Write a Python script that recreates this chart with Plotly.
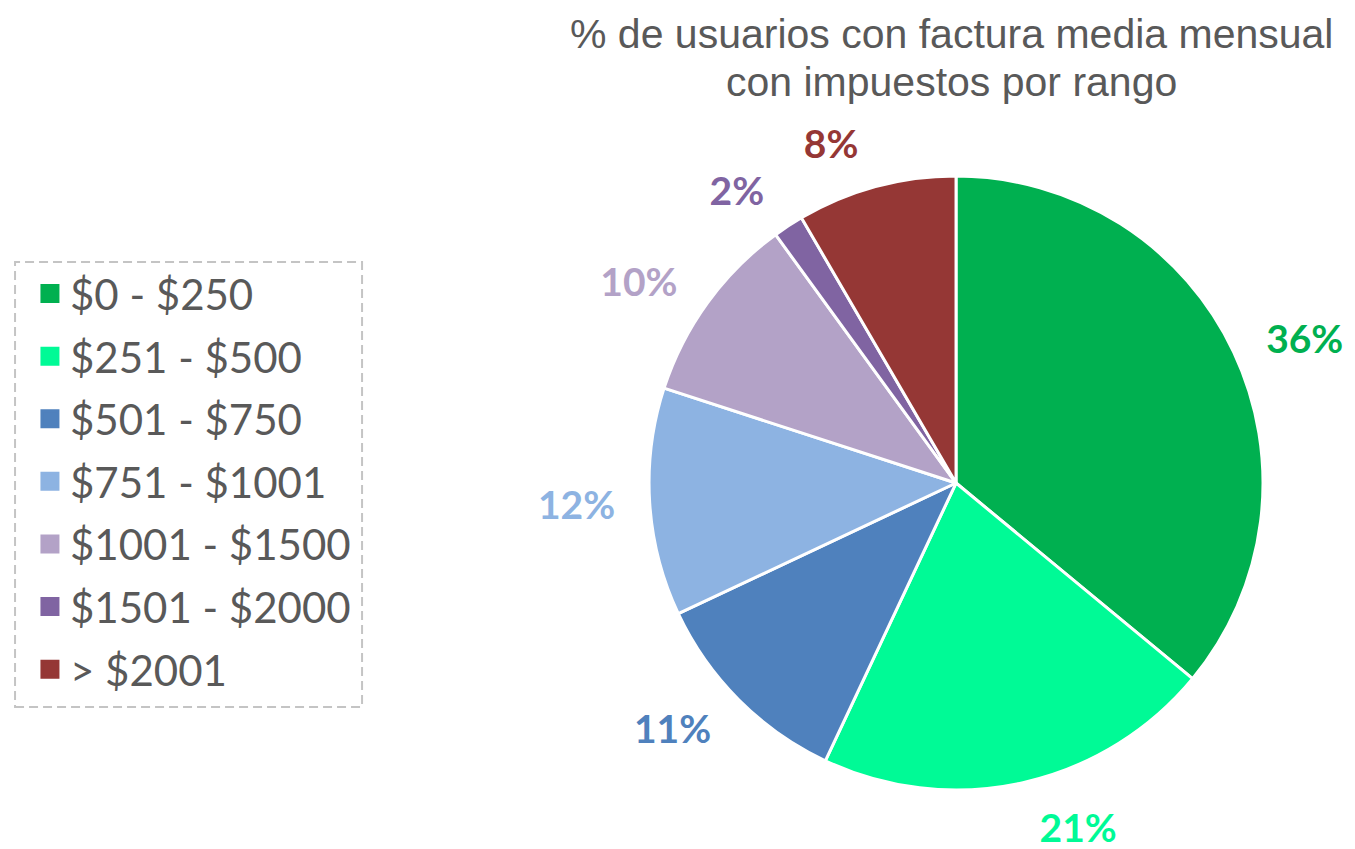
import plotly.graph_objects as go

rangos = ["$0 - $250", "$251 - $500", "$501 - $750", "$751 - $1001",
          "$1001 - $1500", "$1501 - $2000", "> $2001"]
porcentajes = [36, 21, 11, 12, 10, 1.6, 8.4]
colores = ["#00B050", "#00FA96", "#4F81BD", "#8DB3E2", "#B3A2C7", "#8064A2", "#953735"]

titulo = ["% de usuarios con factura media mensual", "con impuestos por rango"]

fig = go.Figure()

# the pie itself, no text
fig.add_trace(go.Pie(
    labels=rangos, values=porcentajes, sort=False, direction="clockwise", rotation=0,
    marker=dict(colors=colores, line=dict(color="white", width=3)),
    textinfo="none", hoverinfo="label+percent",
    domain=dict(x=[0.4731, 0.9262], y=[0.0789, 0.8021]),
    showlegend=False,
))

# transparent, slightly larger copy that only carries the outside labels
fig.add_trace(go.Pie(
    labels=rangos, values=porcentajes, sort=False, direction="clockwise", rotation=0,
    marker=dict(colors=["rgba(0,0,0,0)"] * len(rangos), line=dict(width=0)),
    textposition="outside", texttemplate="%{percent:.0%}",
    outsidetextfont=dict(family="Lato, Open Sans", size=39, color=colores, weight="bold"),
    hoverinfo="skip",
    domain=dict(x=[0.4561, 0.9432], y=[0.0518, 0.8292]),
    showlegend=False,
))

# legend entries with bigger square symbols
for i, (nombre, color) in enumerate(zip(rangos, colores)):
    fig.add_trace(go.Scatter(
        x=[None], y=[None], mode="markers", name=nombre, legendgroup=str(i),
        marker=dict(symbol="square", size=16, color=color, line=dict(color=color, width=3)),
    ))

# title as two lines so the line spacing can match
title_font = dict(family="Liberation Sans Narrow, Liberation Sans", size=41, color="#595959")
annots = [
    dict(text=titulo[0], x=0.6966, y=0.9688, xref="paper", yref="paper", borderpad=0,
         xanchor="center", yanchor="middle", showarrow=False, font=title_font),
    dict(text=titulo[1], x=0.6966, y=0.9128, xref="paper", yref="paper", borderpad=0,
         xanchor="center", yanchor="middle", showarrow=False, font=title_font),
]

fig.update_layout(
    width=1355,
    height=849,
    margin=dict(l=0, r=0, t=0, b=0),
    paper_bgcolor="white",
    plot_bgcolor="white",
    xaxis=dict(visible=False),
    yaxis=dict(visible=False),
    legend=dict(x=0.0162, y=0.7035, xanchor="left", yanchor="top",
                font=dict(family="Lato, Open Sans", size=42, color="#595959"),
                bgcolor="rgba(0,0,0,0)", borderwidth=0, tracegroupgap=5,
                itemsizing="trace", itemclick=False),
    annotations=annots,
    shapes=[dict(type="rect", xref="paper", yref="paper", x0=0.0052, x1=0.2613, y0=0.1767, y1=0.7008,
                 line=dict(color="#C4C4C4", width=2, dash="9px,5px"))],
)

fig.write_html("out.html")
